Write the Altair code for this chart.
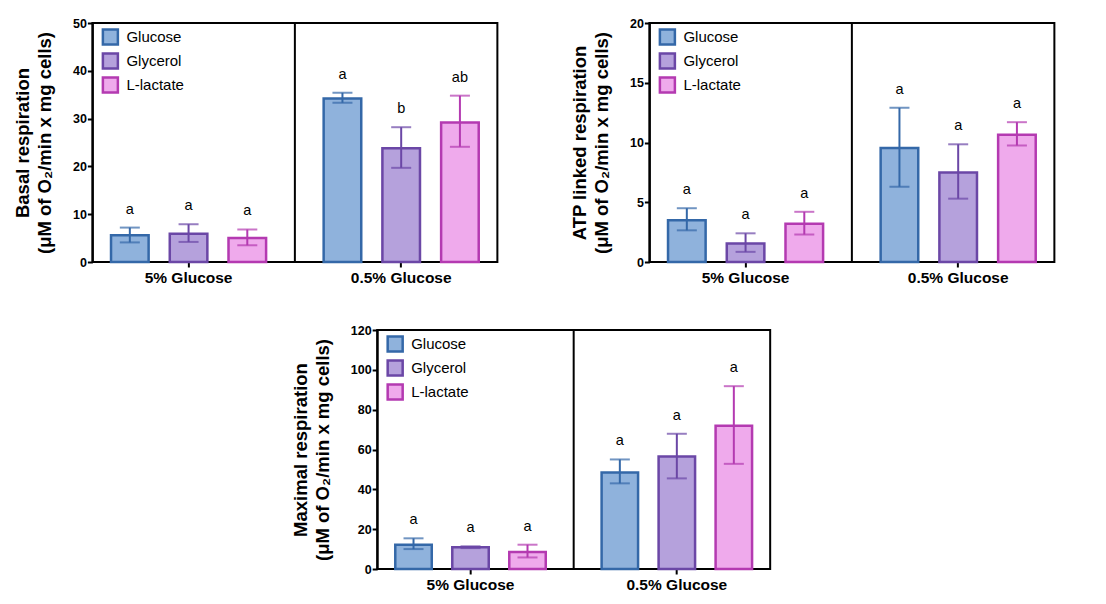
import pandas as pd
import altair as alt

# Gruppene og substratene
groups = ["5% Glucose", "0.5% Glucose"]
substrates = ["Glucose", "Glycerol", "L-lactate"]
fills = ["#8FB2DC", "#B5A1DC", "#EFAAEC"]
strokes = ["#3468A8", "#6B47A6", "#B43AB1"]

# Basal respiration (rekkefolge: 5% G, 5% Gly, 5% L, 0.5% G, 0.5% Gly, 0.5% L)
basal_mean = [5.6, 5.9, 5.0, 34.2, 23.8, 29.2]
basal_low = [4.1, 4.2, 3.5, 33.3, 19.7, 24.1]
basal_high = [7.2, 7.9, 6.8, 35.4, 28.2, 34.8]
basal_letters = ["a", "a", "a", "a", "b", "ab"]
basal_ticks = [0, 10, 20, 30, 40, 50]

# ATP linked respiration
atp_mean = [3.5, 1.55, 3.2, 9.55, 7.5, 10.65]
atp_low = [2.65, 0.85, 2.3, 6.3, 5.3, 9.75]
atp_high = [4.5, 2.4, 4.2, 12.9, 9.85, 11.7]
atp_letters = ["a", "a", "a", "a", "a", "a"]
atp_ticks = [0, 5, 10, 15, 20]

# Maximal respiration
max_mean = [12.2, 10.9, 8.5, 48.5, 56.5, 71.9]
max_low = [10.0, 10.5, 5.8, 43.0, 45.5, 52.8]
max_high = [15.4, 11.4, 12.2, 55.0, 67.9, 91.8]
max_letters = ["a", "a", "a", "a", "a", "a"]
max_ticks = [0, 20, 40, 60, 80, 100, 120]

FONT = "Liberation Sans"


def make_df(mean, low, high, letters):
    return pd.DataFrame({
        "group": [g for g in groups for _ in substrates],
        "substrate": substrates * len(groups),
        "mean": mean,
        "low": low,
        "high": high,
        "letter": letters,
    })


def panel(df, title_lines, ticks, width):
    ymax = ticks[-1]
    # gruppene ligger litt utenfor rammen, som i Prism
    spill = 0.025 * width
    x_scale = alt.Scale(paddingInner=0, paddingOuter=0, range=[-spill, width + spill])
    x_axis = alt.Axis(labelAngle=0, labelFont=FONT, labelFontSize=15.5,
                      labelFontWeight="bold", labelColor="black",
                      labelPadding=3, domain=False,
                      tickColor="black", tickWidth=2, tickSize=5)
    x_enc = alt.X("group:N", sort=groups, title=None, scale=x_scale, axis=x_axis)
    xoff = alt.XOffset("substrate:N", sort=substrates,
                       scale=alt.Scale(paddingInner=0.36, paddingOuter=0.49))
    y_scale = alt.Scale(domain=[0, ymax], nice=False)
    fill_scale = alt.Scale(domain=substrates, range=fills)
    stroke_scale = alt.Scale(domain=substrates, range=strokes)
    leg = alt.Legend(title=None, orient="none", legendX=9, legendY=5, padding=0,
                     symbolType="square", symbolSize=225, symbolStrokeWidth=2.5,
                     labelFont=FONT, labelFontSize=15, labelColor="black",
                     labelOffset=7, rowPadding=-2)

    base = alt.Chart(df).encode(x=x_enc, xOffset=xoff)

    bars = base.mark_bar(strokeWidth=2.5).encode(
        y=alt.Y("mean:Q", scale=y_scale, title=title_lines,
                axis=alt.Axis(values=ticks, tickCount=len(ticks), grid=False,
                              labelFont=FONT, labelFontSize=12.5,
                              labelFontWeight="bold", labelColor="black",
                              labelPadding=1, labelOverlap=False,
                              domainColor="black", domainWidth=2,
                              tickColor="black", tickWidth=2, tickSize=5,
                              titleFont=FONT, titleFontSize=18.5,
                              titleFontWeight="bold", titleColor="black",
                              titleLineHeight=22, titlePadding=18)),
        fill=alt.Fill("substrate:N", sort=substrates, scale=fill_scale, legend=leg),
        stroke=alt.Stroke("substrate:N", sort=substrates, scale=stroke_scale, legend=leg),
    )

    err = base.mark_rule(strokeWidth=2).encode(
        y="low:Q", y2="high:Q",
        stroke=alt.Stroke("substrate:N", sort=substrates, scale=stroke_scale, legend=None),
    )
    cap_hi = base.mark_tick(thickness=2, size=20).encode(
        y="high:Q",
        color=alt.Color("substrate:N", sort=substrates, scale=stroke_scale, legend=None),
    )
    cap_lo = base.mark_tick(thickness=2, size=20).encode(
        y="low:Q",
        color=alt.Color("substrate:N", sort=substrates, scale=stroke_scale, legend=None),
    )
    letters = base.mark_text(font=FONT, fontSize=14.5, color="black", dy=-18).encode(
        y="high:Q", text="letter:N",
    )

    divider = alt.Chart(pd.DataFrame({"group": [groups[1]]})).mark_rule(
        color="black", strokeWidth=2
    ).encode(x=alt.X("group:N", sort=groups, bandPosition=0, title=None,
                     scale=x_scale, axis=x_axis))

    return alt.layer(bars, err, cap_hi, cap_lo, letters, divider).properties(
        width=width, height=239
    )


basal = panel(make_df(basal_mean, basal_low, basal_high, basal_letters),
              ["Basal respiration", "(μM of O₂/min x mg cells)"], basal_ticks, 405)
atp = panel(make_df(atp_mean, atp_low, atp_high, atp_letters),
            ["ATP linked respiration", "(μM of O₂/min x mg cells)"], atp_ticks, 405)
maximal = panel(make_df(max_mean, max_low, max_high, max_letters),
                ["Maximal respiration", "(μM of O₂/min x mg cells)"], max_ticks, 393)

ind = dict(fill="independent", stroke="independent", color="independent",
           x="independent", y="independent", xOffset="independent")

top = alt.hconcat(basal, atp, spacing=50).resolve_scale(**ind)
chart = alt.vconcat(top, maximal, spacing=36, center=True).resolve_scale(**ind).properties(
    padding={"left": 4, "top": 8, "right": 5, "bottom": 2}
).configure_view(stroke="black", strokeWidth=2)

chart.save("out.html", embed_options={"renderer": "svg", "actions": False})
